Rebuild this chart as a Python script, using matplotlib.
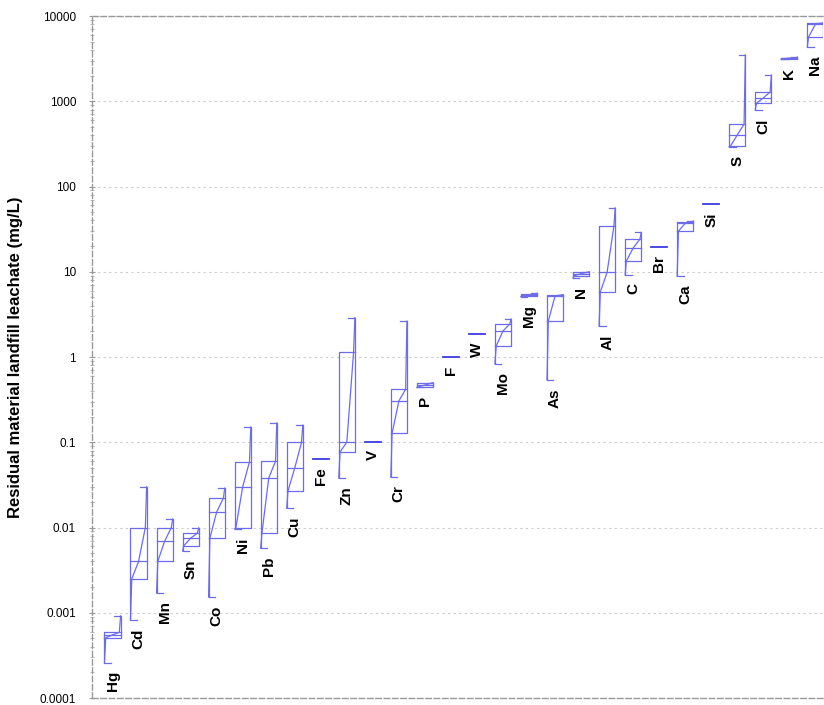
import numpy as np
import matplotlib
matplotlib.use('Agg')
import matplotlib.pyplot as plt
from matplotlib.ticker import LogLocator, FixedFormatter, FixedLocator

plt.rcParams['font.family'] = ['Liberation Sans', 'DejaVu Sans']

# element names, in plotting order
elements = ['Hg', 'Cd', 'Mn', 'Sn', 'Co', 'Ni', 'Pb', 'Cu', 'Fe', 'Zn', 'V', 'Cr', 'P', 'F',
            'W', 'Mo', 'Mg', 'As', 'N', 'Al', 'C', 'Br', 'Ca', 'Si', 'S', 'Cl', 'K', 'Na']

# concentrations in mg/L: min, lower quartile, median, upper quartile, max
v_min = [0.00026, 0.00082, 0.0017, 0.0053, 0.00153, 0.0096, 0.0057, 0.0169, 0.0636, 0.038,
         0.102, 0.039, 0.44, 1.0, 1.86, 0.83, 5.1, 0.54, 8.4, 2.3, 9.2, 19.5, 8.9, 62,
         290, 790, 3100, 4330]
v_q1 = [0.00051, 0.0025, 0.0040, 0.0061, 0.0075, 0.010, 0.0086, 0.0268, 0.0636, 0.077,
        0.102, 0.128, 0.445, 1.0, 1.86, 1.35, 5.2, 2.64, 9.0, 5.8, 13.4, 19.5, 30, 62,
        299, 953, 3150, 5670]
v_med = [0.00055, 0.0040, 0.0069, 0.0075, 0.0152, 0.030, 0.038, 0.050, 0.0636, 0.100,
         0.102, 0.305, 0.47, 1.0, 1.86, 2.02, 5.35, 5.2, 9.5, 9.9, 19.0, 19.5, 37, 62,
         402, 1092, 3200, 8000]
v_q3 = [0.00059, 0.010, 0.010, 0.0086, 0.0222, 0.059, 0.060, 0.100, 0.0636, 1.15,
        0.102, 0.42, 0.495, 1.0, 1.86, 2.44, 5.5, 5.34, 9.9, 34.4, 24.2, 19.5, 38.5, 62,
        541, 1285, 3250, 8280]
v_max = [0.00092, 0.030, 0.0126, 0.0099, 0.029, 0.151, 0.168, 0.159, 0.0636, 2.9,
         0.102, 2.64, 0.50, 1.0, 1.86, 2.79, 5.6, 5.4, 10.0, 56, 29, 19.5, 39.5, 62,
         3490, 2030, 3300, 8300]

ytick_vals = [0.0001, 0.001, 0.01, 0.1, 1, 10, 100, 1000, 10000]
ytick_text = ['0.0001', '0.001', '0.01', '0.1', '1', '10', '100', '1000', '10000']

col = '#6c6cea'
col_single = '#3c3ce0'
w = 0.62  # box width

fig = plt.figure(figsize=(8.24, 7.05), dpi=100)
ax = fig.add_axes([0.1117, 0.0099, 0.887, 0.9674])

for i, name in enumerate(elements):
    lo, a, m, b, hi = v_min[i], v_q1[i], v_med[i], v_q3[i], v_max[i]
    x0 = i - w / 2
    if lo == hi:
        # only one value -> plain line
        ax.plot([x0, x0 + w], [m, m], color=col_single, lw=1.3)
    else:
        # box
        ax.plot([x0, x0 + w, x0 + w, x0, x0], [a, a, b, b, a], color=col, lw=0.9)
        ax.plot([x0, x0 + w], [m, m], color=col, lw=0.9)
        # whiskers on the box edges with caps
        ax.plot([x0 + 0.4 * w, x0, x0], [lo, lo, a], color=col, lw=0.9)
        ax.plot([x0 + 0.6 * w, x0 + w, x0 + w], [hi, hi, b], color=col, lw=0.9)
        # quantile curve across the box
        fx = np.array([0.0, 0.08, 0.5, 0.92, 1.0])
        fy = [lo, a, m, b, hi]
        ax.plot(x0 + fx * w, fy, color=col, lw=0.9)
    ax.annotate(name, xy=(i, lo), xytext=(0, -6), textcoords='offset points',
                rotation=90, ha='center', va='top', fontsize=11, fontweight='bold')

ax.set_yscale('log')
ax.set_ylim(0.0001, 10000)
ax.set_xlim(-0.787, 27.29)

ax.yaxis.set_major_locator(FixedLocator(ytick_vals))
ax.yaxis.set_major_formatter(FixedFormatter(ytick_text))
ax.yaxis.set_minor_locator(LogLocator(base=10, subs=np.arange(2, 10), numticks=20))
ax.tick_params(axis='y', which='major', direction='inout', length=5, width=0.8,
               color='#999999', labelsize=8.5, pad=9)
ax.tick_params(axis='y', which='minor', direction='inout', length=3, width=0.6,
               color='#aaaaaa')
ax.set_xticks([])

ax.grid(axis='y', which='major', linestyle=(0, (2, 3)), color='#cccccc', lw=0.8)

for s in ['top', 'bottom', 'left']:
    ax.spines[s].set_linestyle((0, (4, 2)))
    ax.spines[s].set_color('#999999')
    ax.spines[s].set_linewidth(1.0)
ax.spines['right'].set_visible(False)

ax.set_ylabel('Residual material landfill leachate (mg/L)', fontsize=12,
              fontweight='bold', labelpad=12)

fig.savefig('out.png', dpi=100)
